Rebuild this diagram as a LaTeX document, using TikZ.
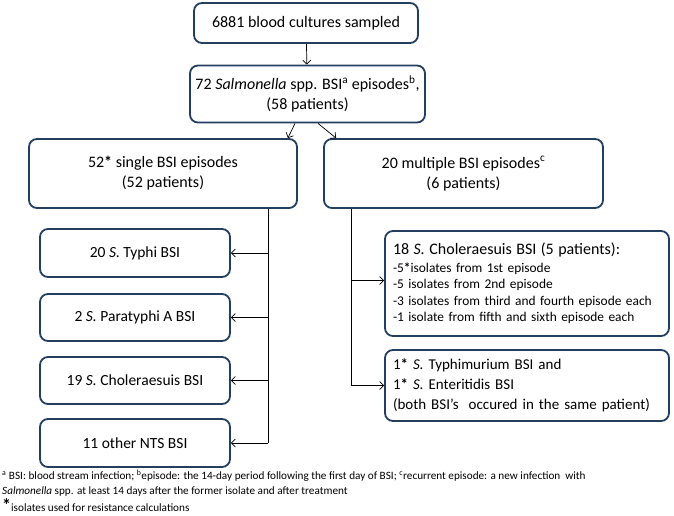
\documentclass[tikz,border=0pt]{standalone}
\usepackage{fontspec}
\setmainfont{Carlito}
\usetikzlibrary{positioning,arrows.meta}
\definecolor{boxblue}{RGB}{36,62,96}

\begin{document}
\begin{tikzpicture}[x=1pt, y=-1pt,
    box/.style={draw=boxblue, line width=1.8pt, rounded corners=8pt, align=center, inner sep=0pt, font=\fontsize{16}{20}\selectfont},
    leafbox/.style={box, minimum width=190pt, font=\fontsize{15.5}{19}\selectfont},
    listbox/.style={box, align=left, text width=268pt, inner xsep=8pt},
    conn/.style={-{Straight Barb[length=4pt,width=8pt]}, line width=0.7pt}]
  \useasboundingbox (0,0) rectangle (674,515);

  % top of the flow
  \node[box, minimum width=224pt, minimum height=40pt] (cultures) at (306,23) {6881 blood cultures sampled};
  \node[box, minimum width=235pt, minimum height=57pt] (episodes) at (307.5,94)
    {72 \textit{Salmonella} spp. BSI\textsuperscript{a} episodes\textsuperscript{b},\\(58 patients)};

  \node[box, minimum width=268pt, minimum height=69pt] (single) at (163,173.5)
    {52\textbf{*} single BSI episodes\\(52 patients)};
  \node[box, minimum width=279pt, minimum height=69pt] (multiple) at (463.5,173.5)
    {20 multiple BSI episodes\textsuperscript{c}\\(6 patients)};

  % single episodes
  \node[leafbox, minimum height=48pt] (typhi) at (135,253) {20 \textit{S.} Typhi BSI};
  \node[leafbox, minimum height=47pt] (paratyphi) at (135,317.5) {2 \textit{S.} Paratyphi A BSI};
  \node[leafbox, minimum height=47pt] (cholsingle) at (135,380.5) {19 \textit{S.} Choleraesuis BSI};
  \node[leafbox, minimum height=48pt] (othernts) at (135,443) {11 other NTS BSI};

  % multiple episodes
  \node[listbox, minimum height=105pt, font=\fontsize{13.4}{16.5}\selectfont] (cholmulti) at (527,283.5)
    {{\fontsize{16}{20}\selectfont 18 \textit{S.} Choleraesuis BSI (5 patients):}\\[1pt]
     -5\textbf{*}isolates from 1st episode\\
     -5 isolates from 2nd episode\\
     -3 isolates from third and fourth episode each\\
     -1 isolate from fifth and sixth episode each};
  \node[listbox, minimum height=71pt, font=\fontsize{15}{20}\selectfont] (typhimurium) at (527,385.5)
    {1\textbf{*} \textit{S.} Typhimurium BSI and\\
     1\textbf{*} \textit{S.} Enteritidis BSI\\
     \mbox{(both BSI’s~ occured in the same patient)}};

  \coordinate (ltrunk) at (268,0);
  \coordinate (rtrunk) at (351,0);

  \draw[conn] (cultures) -- (episodes);
  \draw[conn] ([xshift=-12.5pt]episodes.south) -- ([xshift=-10pt]single.north east);
  \draw[conn] ([xshift=10.5pt]episodes.south) -- ([xshift=13pt]multiple.north west);

  \draw[line width=0.7pt] (single.south -| ltrunk) -- (othernts.east -| ltrunk);
  \draw[conn] (typhi.east -| ltrunk) -- (typhi.east);
  \draw[conn] (paratyphi.east -| ltrunk) -- (paratyphi.east);
  \draw[conn] (cholsingle.east -| ltrunk) -- (cholsingle.east);
  \draw[conn] (othernts.east -| ltrunk) -- (othernts.east);

  \draw[line width=0.7pt] (multiple.south -| rtrunk) -- (typhimurium.west -| rtrunk);
  \draw[conn] ([yshift=3pt]cholmulti.west -| rtrunk) -- ([yshift=3pt]cholmulti.west);
  \draw[conn] (typhimurium.west -| rtrunk) -- (typhimurium.west);

  % footnotes
  \node[anchor=west, align=left, inner sep=0pt, font=\fontsize{11.2}{15}\selectfont] (notes) at (2,483.5)
    {\textsuperscript{a} BSI: blood stream infection; \textsuperscript{b}episode: the 14-day period following the first day of BSI; \textsuperscript{c}recurrent episode: a new infection~ with\\
     \textit{Salmonella} spp. at least 14 days after the former isolate and after treatment};
  \node[anchor=base west, inner sep=0pt, font=\fontsize{11.2}{12}\selectfont] (starnote) at (2,511)
    {{\fontsize{18}{18}\selectfont\textbf{*}}isolates used for resistance calculations};
\end{tikzpicture}
\end{document}
